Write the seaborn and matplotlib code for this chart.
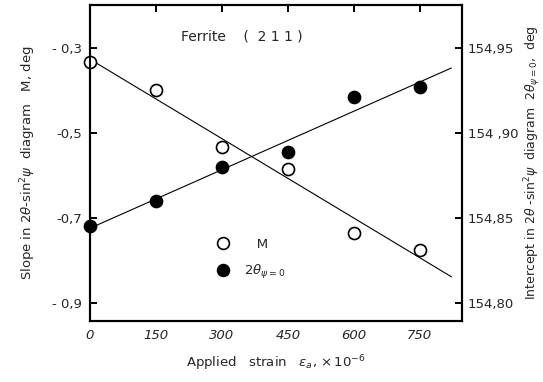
import numpy as np
import pandas as pd
import matplotlib
matplotlib.use("Agg")
import matplotlib.pyplot as plt
import seaborn as sns

# ---- data ----
strain = [0, 150, 300, 450, 600, 750]                 # applied strain x 1e-6
slope_M = [-0.333, -0.399, -0.533, -0.585, -0.735, -0.775]   # deg
intercept_2theta = [154.845, 154.860, 154.880, 154.889, 154.921, 154.927]  # deg
fit_range = [0, 822]

left_ticks = [-0.3, -0.5, -0.7, -0.9]
left_ticklabels = ["- 0,3", "-0,5", "-0,7", "- 0,9"]
right_ticks = [154.95, 154.90, 154.85, 154.80]
right_ticklabels = ["154,95", "154 ,90", "154,85", "154,80"]
x_ticks = [0, 150, 300, 450, 600, 750]
x_ticklabels = ["0", "150", "300", "450", "600", "750"]

sns.set_style("white")
plt.rcParams["font.family"] = ["DejaVu Sans"]
plt.rcParams["font.size"] = 9.5

fig = plt.figure(figsize=(5.43, 3.82), dpi=100)
ax = fig.add_axes([90/543, 61/382, 372/543, 316/382])
ax2 = ax.twinx()

df = pd.DataFrame({"strain": strain, "M": slope_M, "I": intercept_2theta})

# fitted lines
pM = np.polyfit(df["strain"], df["M"], 1)
pI = np.polyfit(df["strain"], df["I"], 1)
fx = np.array(fit_range, dtype=float)
sns.lineplot(x=fx, y=np.polyval(pM, fx), ax=ax, color="black", lw=0.8, zorder=2)
sns.lineplot(x=fx, y=np.polyval(pI, fx), ax=ax2, color="black", lw=0.8, zorder=2)

sns.scatterplot(data=df, x="strain", y="M", ax=ax, marker="o", s=75,
                facecolor="white", edgecolor="black", linewidth=1.2,
                zorder=5, clip_on=False)
sns.scatterplot(data=df, x="strain", y="I", ax=ax2, marker="o", s=75,
                color="black", edgecolor="black", linewidth=1.2,
                zorder=5, clip_on=False)

# limits (right axis aligned so 154.95 <-> -0.3, 0.05 <-> 0.2)
ylo, yhi = -0.9424, -0.1988
ax.set_xlim(0, 846)
ax.set_ylim(ylo, yhi)
ax2.set_ylim(154.95 + (ylo + 0.3) * 0.25, 154.95 + (yhi + 0.3) * 0.25)

ax.set_xticks(x_ticks)
ax.set_xticklabels(x_ticklabels, fontstyle="italic")
ax.set_yticks(left_ticks)
ax.set_yticklabels(left_ticklabels)
ax2.set_yticks(right_ticks)
ax2.set_yticklabels(right_ticklabels)

ax.tick_params(axis="both", direction="in", length=5, width=1.4, top=True,
               labeltop=False, pad=6, color="black")
ax.tick_params(axis="x", pad=6)
ax2.tick_params(axis="y", direction="in", length=5, width=1.4, pad=4, color="black")

for a in (ax, ax2):
    for sp in a.spines.values():
        sp.set_linewidth(1.5)
        sp.set_color("black")

ax.set_xlabel(r"Applied   strain   $\varepsilon_{a}$, $\times\,10^{-6}$", labelpad=8)
ax.set_ylabel(r"Slope in $2\theta$-sin$^2\psi$  diagram   M, deg", labelpad=10)
ax2.set_ylabel(r"Intercept in $2\theta$ -sin$^2\psi$  diagram  $2\theta_{\psi=0}$,  deg",
               rotation=90, labelpad=3, fontsize=9)

ax.text(206, -0.272, "Ferrite    (  2 1 1 )", fontsize=10, va="center", ha="left")

# legend
h1 = plt.Line2D([], [], marker="o", ls="none", mfc="white", mec="black", ms=8.5, mew=1.2)
h2 = plt.Line2D([], [], marker="o", ls="none", mfc="black", mec="black", ms=8.5, mew=1.2)
ax.legend([h1, h2], ["   M", r"$2\theta_{\psi=0}$"], frameon=False,
          loc="upper left", bbox_to_anchor=(0.29, 0.30), handletextpad=0.6,
          labelspacing=0.9, fontsize=9.5)

ax.set_facecolor("white")
fig.savefig("out.png", dpi=100, facecolor="white")
